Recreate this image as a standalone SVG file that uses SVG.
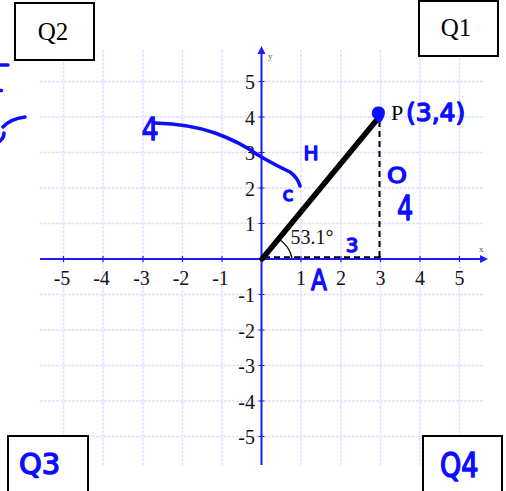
<svg xmlns="http://www.w3.org/2000/svg" width="506" height="491" viewBox="0 0 506 491">
<style>
.grid{stroke:#e0e0ff;stroke-width:1.5;stroke-dasharray:3 1;fill:none}
.axis{stroke:#1c1cff;stroke-width:2;fill:none}
.tick{stroke:#1c1cff;stroke-width:1.2}
.num{font-family:"Liberation Serif",serif;font-size:20px;fill:#111}
.box{fill:#fff;stroke:#000;stroke-width:2}
.q{font-family:"Liberation Serif",serif;font-size:25px;fill:#000}
.hw{font-family:"DejaVu Sans",sans-serif;fill:#0d0dff;stroke:#0d0dff;stroke-width:1.4;stroke-linejoin:round}
.ink{fill:none;stroke:#0d0dff;stroke-width:3.5;stroke-linecap:round;stroke-linejoin:round}
.dash{stroke:#000;stroke-width:2;stroke-dasharray:6 4;fill:none}
</style>
<rect width="506" height="491" fill="#fff"/>
<g id="grid">
<path class="grid" d="M63.5 50V465M103 50V465M143 50V465M182.5 50V465M222 50V465M301 50V465M341 50V465M380.5 50V465M420 50V465M459.5 50V465"/>
<path class="grid" d="M40 81.5H484M40 117H484M40 152.5H484M40 188H484M40 223.5H484M40 294.5H484M40 330H484M40 365.5H484M40 401H484M40 436.5H484"/>
</g>
<g id="axes">
<path class="axis" d="M40 259H482M261.5 465V53"/>
<path d="M488 259L480 255L480 263Z" fill="#1c1cff"/>
<path d="M261.5 46L257.5 54L265.5 54Z" fill="#1c1cff"/>
<path class="tick" d="M63.5 256V262M103 256V262M143 256V262M182.5 256V262M222 256V262M301 256V262M341 256V262M380.5 256V262M420 256V262M459.5 256V262"/>
<path class="tick" d="M258.5 81.5H264.5M258.5 117H264.5M258.5 152.5H264.5M258.5 188H264.5M258.5 223.5H264.5M258.5 294.5H264.5M258.5 330H264.5M258.5 365.5H264.5M258.5 401H264.5M258.5 436.5H264.5"/>
<text x="268" y="59" font-family="Liberation Serif,serif" font-size="9" fill="#555">y</text>
<text x="479" y="252" font-family="Liberation Serif,serif" font-size="9" fill="#555">x</text>
</g>
<g id="xlabels" class="num" text-anchor="middle">
<text x="62" y="284.5">-5</text>
<text x="101.5" y="284.5">-4</text>
<text x="141.5" y="284.5">-3</text>
<text x="181" y="284.5">-2</text>
<text x="220.5" y="284.5">-1</text>
<text x="301" y="284.5">1</text>
<text x="341" y="284.5">2</text>
<text x="380.5" y="284.5">3</text>
<text x="420" y="284.5">4</text>
<text x="459.5" y="284.5">5</text>
</g>
<g id="ylabels" class="num" text-anchor="end">
<text x="255" y="89">5</text>
<text x="255" y="124.5">4</text>
<text x="255" y="160">3</text>
<text x="255" y="195.5">2</text>
<text x="255" y="231">1</text>
<text x="255" y="302">-1</text>
<text x="255" y="337.5">-2</text>
<text x="255" y="373">-3</text>
<text x="255" y="408.5">-4</text>
<text x="255" y="444">-5</text>
</g>
<g id="triangle">
<path class="dash" d="M379.5 121V259M264 257.3H380"/>
<path d="M292 258A30.5 30.5 0 0 0 277 238" fill="none" stroke="#000" stroke-width="1.3"/>
<line x1="262" y1="259" x2="380" y2="116" stroke="#000" stroke-width="5.5" stroke-linecap="round"/>
<text x="290.5" y="244" class="num" font-size="21">53.1°</text>
</g>
<g id="pointP">
<path d="M372 112Q373 106 379 106.5Q385 107 385 113Q384 119 380 123Q377 123 375 119Q371 116 372 112Z" fill="#0d0dff"/>
<text x="391" y="120" font-family="Liberation Serif,serif" font-size="22" fill="#000">P</text>
<text x="406" y="121" class="hw" font-size="25">(3,4)</text>
</g>
<g id="annotations">
<text x="311" y="160" class="hw" font-size="20" text-anchor="middle">H</text>
<text x="288" y="201" class="hw" font-size="20" text-anchor="middle">c</text>
<text x="397" y="183" class="hw" font-size="22" text-anchor="middle" transform="translate(397 183) scale(1.15 1) translate(-397 -183)">O</text>
<text x="405" y="220" class="hw" font-size="34" text-anchor="middle" transform="translate(405 220) scale(0.75 1) translate(-405 -220)">4</text>
<text x="352" y="252" class="hw" font-size="20" text-anchor="middle">3</text>
<text x="319" y="290" class="hw" font-size="29" text-anchor="middle" transform="translate(319 290) scale(0.8 1) translate(-319 -290)">A</text>
<text x="150" y="140" class="hw" font-size="36" text-anchor="middle" transform="translate(150 140) scale(0.75 0.9) translate(-150 -140)">4</text>
<path class="ink" d="M155 123Q190 124 215 133Q240 142 258 155Q275 165 290 172Q298 178 300 186"/>
<path class="ink" d="M0 65H8M0 90.5H1.5M25 117Q10 119 3 127M4 133Q4 138 0 141"/>
</g>
<g id="Q2"><rect class="box" x="15" y="3" width="79" height="57"/><text class="q" x="53" y="40" text-anchor="middle" font-size="26">Q2</text></g>
<g id="Q1"><rect class="box" x="419" y="1" width="79" height="55"/><text class="q" x="456" y="36" text-anchor="middle">Q1</text></g>
<g id="Q3"><rect class="box" x="8" y="436" width="80" height="60"/><text class="hw" x="19" y="474" font-size="29">Q3</text></g>
<g id="Q4"><rect class="box" x="423" y="436" width="79" height="60"/><text class="hw" x="440" y="477" font-size="30" transform="translate(440 477) scale(0.9 1.1) translate(-440 -477)">Q4</text></g>
</svg>
